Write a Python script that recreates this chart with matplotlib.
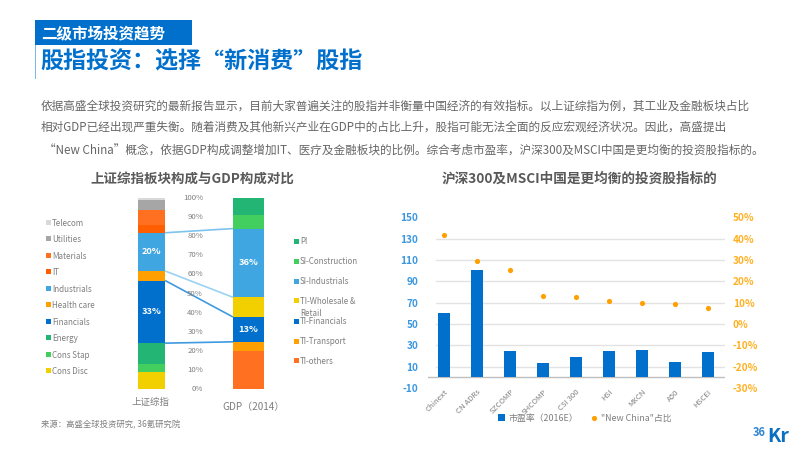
import matplotlib
matplotlib.use("Agg")
import matplotlib.pyplot as plt
from matplotlib.patches import Rectangle
import numpy as np

plt.rcParams["font.family"] = ["Noto Sans CJK SC", "DejaVu Sans"]

# left chart, stacks listed from the bottom up
index_sectors = ["Cons Disc", "Cons Stap", "Energy", "Financials", "Health care",
                 "Industrials", "IT", "Materials", "Utilities", "Telecom"]
index_shares = [8.7, 4.3, 11, 32.8, 5, 20, 4, 8, 5.2, 1]
gdp_sectors = ["TI-others", "TI-Transport", "TI-Financials", "TI-Wholesale & Retail",
               "SI-Industrials", "SI-Construction", "PI"]
gdp_shares = [20, 4.7, 13, 10.3, 36, 7, 9]
pct_ticks = list(range(0, 101, 10))

# right chart
markets = ["Chinext", "CN ADRs", "SZCOMP", "SHCOMP", "CSI 300", "HSI", "MXCN", "A50", "HSCEI"]
pe_2016 = [60, 101, 25, 13.5, 19, 25, 26, 14, 24]
new_china = [41.8, 29.3, 25.3, 13, 12.5, 11, 9.7, 9.2, 7.5]
pe_ticks = [-10, 10, 30, 50, 70, 90, 110, 130, 150]
share_ticks = [-30, -20, -10, 0, 10, 20, 30, 40, 50]

BLUE = "#0070cc"
SKY = "#40a6e2"
ORANGE = "#ffa000"
GREY = "#7f7f7f"
index_colors = ["#f2d000", "#42cf60", "#22b573", BLUE, ORANGE, SKY, "#ff5f00", "#ff7020", "#a6a6a6", "#d9d9d9"]
gdp_colors = ["#ff7020", ORANGE, BLUE, "#f2d000", SKY, "#42cf60", "#22b573"]

W, H = 800, 450
fig = plt.figure(figsize=(8, 4.5), dpi=100)


def axes_px(x0, y0, x1, y1):
    # axes from pixel box, y measured from the top of the image
    return fig.add_axes([x0 / W, 1 - y1 / H, (x1 - x0) / W, (y1 - y0) / H])


# overlay in image pixels for header, paragraph, hand-placed legends
bg = fig.add_axes([0, 0, 1, 1], zorder=0)
bg.set_xlim(0, W)
bg.set_ylim(H, 0)
bg.axis("off")

bg.add_patch(Rectangle((35, 20), 157, 25, color=BLUE, lw=0))
bg.add_patch(Rectangle((34.5, 45), 1.2, 34, color="#7db8e8", lw=0))
bg.text(41, 33.5, "二级市场投资趋势", color="white", fontsize=11.2, fontweight="bold", va="center")
bg.text(40, 62, "股指投资：选择“新消费”股指", color=BLUE, fontsize=16.6, fontweight="bold", va="center")

para = [
    (41, 106, "依据高盛全球投资研究的最新报告显示，目前大家普遍关注的股指并非衡量中国经济的有效指标。以上证综指为例，其工业及金融板块占比"),
    (41, 127.5, "相对GDP已经出现严重失衡。随着消费及其他新兴产业在GDP中的占比上升，股指可能无法全面的反应宏观经济状况。因此，高盛提出"),
    (44, 151, "“New China”概念，依据GDP构成调整增加IT、医疗及金融板块的比例。综合考虑市盈率，沪深300及MSCI中国是更均衡的投资股指标的。"),
]
for x, y, line in para:
    bg.text(x, y, line, color="#666666", fontsize=8.38, va="center")

bg.text(192, 179, "上证综指板块构成与GDP构成对比", color="#595959", fontsize=9.7, fontweight="bold", ha="center", va="center")
bg.text(579, 179, "沪深300及MSCI中国是更均衡的投资股指标的", color="#595959", fontsize=9.8, fontweight="bold", ha="center", va="center")
bg.text(41, 424.5, "来源：高盛全球投资研究, 36氪研究院", color="#808080", fontsize=6.0, va="center")
bg.text(151, 402, "上证综指", color=GREY, fontsize=6.8, ha="center", va="center")
bg.text(254, 407, "GDP（2014）", color=GREY, fontsize=7.2, ha="center", va="center")

# left legend, top row is the top of the stack
for i, (name, c) in enumerate(zip(index_sectors[::-1], index_colors[::-1])):
    y = 222 + i * 16.55
    bg.add_patch(Rectangle((46, y - 2.5), 5, 5, color=c, lw=0))
    bg.text(52, y + 1, name, color=GREY, fontsize=5.8, va="center")

gdp_rows = [241, 261, 281, 300, 321, 341, 360]
for y, name, c in zip(gdp_rows, gdp_sectors[::-1], gdp_colors[::-1]):
    bg.add_patch(Rectangle((294, y - 2.5), 5, 5, color=c, lw=0))
    if "&" in name:
        bg.text(300, y + 1, "TI-Wholesale &", color=GREY, fontsize=5.8, va="center")
        bg.text(300, y + 13.5, "Retail", color=GREY, fontsize=5.8, va="center")
    else:
        bg.text(300, y + 1, name, color=GREY, fontsize=5.8, va="center")

# stacked columns
ax = axes_px(103, 198, 297, 389)
ax.patch.set_alpha(0)
ax.set_xlim(-0.5, 1.5)
ax.set_ylim(0, 100)
ax.axis("off")

index_tops = np.cumsum(index_shares)
gdp_tops = np.cumsum(gdp_shares)
left_w, right_w = 0.28, 0.32
for xpos, shares, tops, colors, w in [(0, index_shares, index_tops, index_colors, left_w),
                                      (1, gdp_shares, gdp_tops, gdp_colors, right_w)]:
    ax.bar(xpos, shares, bottom=np.array(tops) - np.array(shares), width=w, color=colors, lw=0)

for t in pct_ticks:
    ax.text(0.53, t, f"{t}%", color=GREY, fontsize=5.6, ha="right", va="center")

# connectors between matching sectors
pairs = [(5, 4, "top", "#7cc4ee"), (5, 4, "bottom", "#9ad2f2"), (3, 2, "top", "#3f9ae0"), (3, 2, "bottom", "#3f9ae0")]
for li, ri, edge, c in pairs:
    ly = index_tops[li] if edge == "top" else index_tops[li] - index_shares[li]
    ry = gdp_tops[ri] if edge == "top" else gdp_tops[ri] - gdp_shares[ri]
    ax.plot([left_w / 2, 1 - right_w / 2], [ly, ry], color=c, lw=1.2, solid_capstyle="butt")

for xpos, i, shares, tops in [(0, 5, index_shares, index_tops), (0, 3, index_shares, index_tops),
                              (1, 4, gdp_shares, gdp_tops), (1, 2, gdp_shares, gdp_tops)]:
    ax.text(xpos, tops[i] - shares[i] / 2, f"{round(shares[i])}%", color="white",
            fontsize=6.6, fontweight="bold", ha="center", va="center")

# bars + dots on two scales
ax2 = axes_px(427.5, 217.3, 724.5, 388)
ax2.patch.set_alpha(0)
x = np.arange(len(markets))
ax2.set_xlim(-0.5, len(markets) - 0.5)
ax2.set_ylim(-10, 150)
ax2.bar(x, pe_2016, width=0.34, color=BLUE, lw=0, zorder=3, label="市盈率（2016E）")
ax2.set_yticks(pe_ticks)
ax2.set_yticklabels([str(v) for v in pe_ticks], color="#3a97e0", fontsize=7.2, fontweight="bold")
ax2.tick_params(axis="y", length=0, pad=6.5)
ax2.set_xticks(x)
ax2.set_xticklabels(markets, rotation=45, ha="right", rotation_mode="anchor", color=GREY, fontsize=5.6)
ax2.tick_params(axis="x", length=0, pad=0)
for v in pe_ticks[1:-1]:
    ax2.plot([-0.24, len(markets) - 0.5], [v, v], color="#e3e3e3", lw=1, zorder=1)
ax2.axhline(0, color="#bfbfbf", lw=1, zorder=2)
for s in ax2.spines.values():
    s.set_visible(False)

ax3 = ax2.twinx()
ax3.set_ylim(-30, 50)
ax3.scatter(x, new_china, s=14, color=ORANGE, lw=0, zorder=4, label="\"New China\"占比")
ax3.set_yticks(share_ticks)
ax3.set_yticklabels([f"{v}%" for v in share_ticks], color="#ffb020", fontsize=7.2, fontweight="bold")
ax3.tick_params(axis="y", length=0, pad=6)
for s in ax3.spines.values():
    s.set_visible(False)

h1, l1 = ax2.get_legend_handles_labels()
h2, l2 = ax3.get_legend_handles_labels()
fig.legend(h1 + h2, l1 + l2, loc="center", bbox_to_anchor=(585 / W, 1 - 418 / H), ncol=2, frameon=False,
           fontsize=6.4, labelcolor=GREY, handlelength=0.8, handleheight=0.8, columnspacing=1.4, handletextpad=0.4)

# logo
bg.text(753, 432, "36", color="#2f86cf", fontsize=8, va="center", fontweight="bold")
bg.text(767, 436, "Kr", color="#0a6fc2", fontsize=14, va="center", fontweight="bold")

fig.savefig("out.png", dpi=100)
